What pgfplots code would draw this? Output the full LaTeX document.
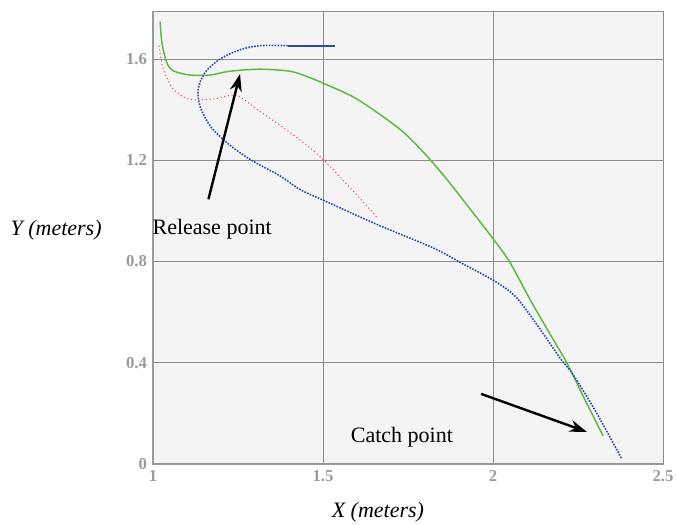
\documentclass[border=0pt]{standalone}
\usepackage{fontspec}
\setmainfont{Liberation Serif}
\usepackage{pgfplots}
\pgfplotsset{compat=1.18}
\usetikzlibrary{arrows.meta}
\definecolor{bg}{HTML}{F4F4F4}
\definecolor{gridgray}{HTML}{8C8C8C}
\definecolor{axgray}{HTML}{9A9A9A}
\definecolor{tickgray}{HTML}{9A9A9A}
\definecolor{cgreen}{HTML}{5CB83E}
\definecolor{cred}{HTML}{F04848}
\definecolor{cblue}{HTML}{2A48B0}
\begin{document}
\begin{tikzpicture}
\begin{axis}[
  scale only axis,
  width=382.5pt, height=339.75pt,
  xmin=1, xmax=2.5, ymin=0, ymax=1.79,
  xtick={1,1.5,2,2.5}, xticklabels={1,1.5,2,2.5},
  ytick={0,0.4,0.8,1.2,1.6}, yticklabels={0,0.4,0.8,1.2,1.6},
  major tick length=0pt,
  grid=major,
  major grid style={gridgray, line width=0.6pt},
  axis line style={gridgray, line width=0.6pt},
  axis background/.style={fill=bg},
  tick label style={font=\bfseries\fontsize{12.5}{13}\selectfont, text=tickgray},
  xticklabel style={yshift=-1pt},
  yticklabel style={xshift=-1pt},
  xlabel={X (meters)}, ylabel={Y (meters)},
  label style={font=\itshape\fontsize{16.5}{18}\selectfont},
  xlabel style={at={(axis description cs:0.441,-0.106)}, anchor=center},
  ylabel style={at={(axis description cs:-0.190,0.517)}, anchor=center, rotate=-90},
  clip=false,
]
\coordinate (O) at (rel axis cs:0,0);
\draw[axgray, line width=1.6pt] (rel axis cs:0,1) -- (rel axis cs:0,0) -- (rel axis cs:1,0);
% green
\addplot[cgreen, line width=1.1pt, smooth, tension=0.5] coordinates {
(1.021,1.748) (1.026,1.667) (1.040,1.588) (1.059,1.554) (1.109,1.537)
(1.168,1.537) (1.226,1.552) (1.315,1.560) (1.403,1.552) (1.455,1.530) (1.500,1.505)
(1.600,1.442) (1.726,1.323) (1.800,1.225) (1.864,1.125) (1.940,0.995) (2.006,0.880) (2.050,0.796)
(2.109,0.650) (2.160,0.531) (2.217,0.400) (2.270,0.255) (2.324,0.111)};
% red
\addplot[cred, line width=0.8pt, dotted, smooth, tension=0.5] coordinates {
(1.018,1.653) (1.030,1.560) (1.060,1.481) (1.099,1.444) (1.138,1.439)
(1.187,1.444) (1.246,1.457) (1.305,1.402) (1.403,1.310) (1.500,1.204)
(1.638,1.006) (1.661,0.969)};
% blue solid start
\addplot[cblue, line width=1.5pt] coordinates {(1.534,1.653) (1.398,1.653)};
% blue dotted
\addplot[cblue, line width=1.2pt, densely dotted, smooth, tension=0.5] coordinates {
(1.397,1.653) (1.315,1.653) (1.256,1.637) (1.197,1.600) (1.153,1.547)
(1.133,1.481) (1.138,1.415) (1.168,1.336) (1.217,1.270) (1.285,1.204)
(1.374,1.138) (1.432,1.085) (1.506,1.039) (1.658,0.947) (1.824,0.854)
(1.903,0.797) (2.006,0.722) (2.065,0.663) (2.119,0.570) (2.197,0.419)
(2.236,0.352) (2.305,0.201) (2.379,0.019)};
% annotations
\node[font=\fontsize{16.5}{18}\selectfont] at (axis cs:1.174,0.927) {Release point};
\draw[line width=1.8pt, -{Stealth[length=13pt,width=9pt]}] (axis cs:1.163,1.046) -- (axis cs:1.256,1.541);
\node[font=\fontsize{16.5}{18}\selectfont] at (axis cs:1.732,0.107) {Catch point};
\draw[line width=1.8pt, -{Stealth[length=13pt,width=9pt]}] (axis cs:1.965,0.277) -- (axis cs:2.276,0.127);
\end{axis}
\pgfresetboundingbox
\path (O) ++(-114.75pt,-45pt) rectangle ++(507.75pt,393pt);
\end{tikzpicture}
\end{document}
